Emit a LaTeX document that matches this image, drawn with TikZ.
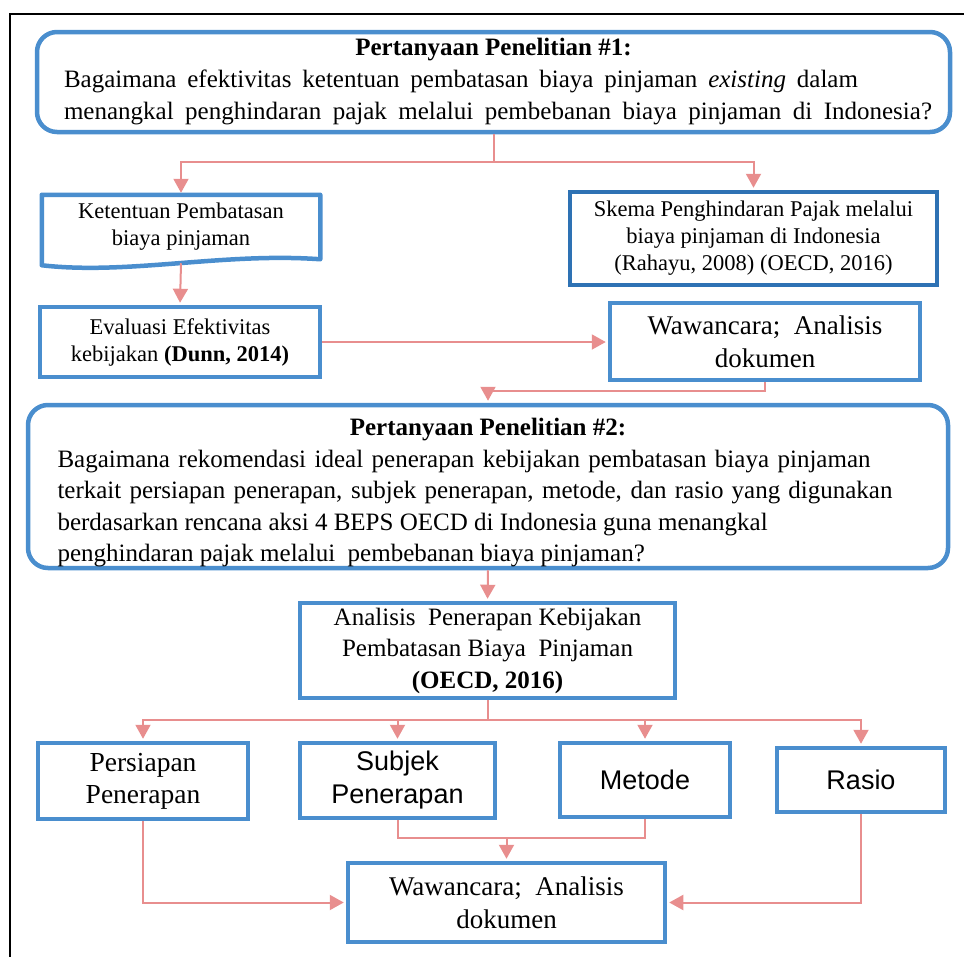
\documentclass[tikz,border=0pt]{standalone}
\usepackage{fontspec}
\setmainfont{Liberation Serif}
\setsansfont{Liberation Sans}
\usetikzlibrary{calc, arrows.meta, positioning}
\definecolor{boxblue}{RGB}{74,142,206}
\definecolor{darkblue}{RGB}{46,114,180}
\definecolor{arrowpink}{RGB}{232,142,142}
\newcommand{\fs}[2]{\fontsize{#1}{#2}\selectfont}
\newcommand{\jline}[3]{\makebox[#1][l]{\makebox[#2][s]{#3}}}

\begin{document}
\begin{tikzpicture}
    [
        x=1pt, y=-1pt, >={Triangle[length=14pt,width=15pt]},
        box/.style={draw=boxblue, line width=4.5pt, fill=white, inner sep=0pt, align=center},
        qbox/.style={box, rounded corners=20pt},
        txt/.style={font=\fs{22.5}{27}},
        bigtxt/.style={font=\fs{27}{33}},
        sanstxt/.style={font=\sffamily\fs{27}{33}}
    ]
    \tikzstyle{line} = [draw=arrowpink, line width=2pt, ->, shorten >=2pt]
    \tikzstyle{plain} = [draw=arrowpink, line width=2pt]

    \useasboundingbox (0,0) rectangle (964,956);
    \draw[line width=2pt] (10,962) -- (10,14) -- (966,14);

    % pertanyaan 1
    \node[qbox, minimum width=913pt, minimum height=100pt, font=\fs{25}{32}] (q1) at (493.5,82)
        {\textbf{Pertanyaan Penelitian \#1:}\\
         \jline{859pt}{794pt}{Bagaimana efektivitas ketentuan pembatasan biaya pinjaman \textit{existing} dalam}\\
         \jline{859pt}{868pt}{menangkal penghindaran pajak melalui pembebanan biaya pinjaman di Indonesia?}};

    \node[box, draw=none, minimum width=274pt, minimum height=60pt, txt] (ketentuan) at (181,227)
        {Ketentuan Pembatasan\\biaya pinjaman};
    \draw[draw=boxblue, line width=4.5pt, line join=round] (ketentuan.north west) -- (ketentuan.north east)
        -- (ketentuan.south east) .. controls +(-98,-7) and +(86,10) .. ([yshift=-6pt]ketentuan.south west) -- cycle;
    \node[box, draw=darkblue, minimum width=367pt, minimum height=93pt, txt] (skema) at (753.5,238.5)
        {Skema Penghindaran Pajak melalui\\biaya pinjaman di Indonesia\\(Rahayu,\ 2008) (OECD, 2016)};
    \node[box, minimum width=280pt, minimum height=70pt, txt] (evaluasi) at (180,342)
        {Evaluasi Efektivitas\\kebijakan \textbf{(Dunn, 2014)}};
    \node[box, minimum width=310pt, minimum height=77pt, bigtxt] (wawancara1) at (765,341.5)
        {Wawancara;\ \ Analisis\\dokumen};

    \coordinate (split1) at (493.5,162);
    \path[line] (q1.south) -- (split1) -| (ketentuan.north);
    \path[line] (split1) -| (skema.north);
    \path[line] ([yshift=-4pt]ketentuan.south) -- (evaluasi.north);
    \path[line] (evaluasi.east) -- (evaluasi.east -| wawancara1.west);

    % pertanyaan 2
    \node[qbox, minimum width=920pt, minimum height=163pt, font=\fs{25}{31.5}] (q2) at (488,486.5)
        {\rule{0pt}{30pt}\textbf{Pertanyaan Penelitian \#2:}\\
         \jline{861pt}{813pt}{Bagaimana rekomendasi ideal penerapan kebijakan pembatasan biaya pinjaman}\\
         \jline{861pt}{835pt}{terkait persiapan penerapan, subjek penerapan, metode, dan rasio yang digunakan}\\
         \makebox[861pt][l]{berdasarkan rencana aksi 4 BEPS OECD di Indonesia guna menangkal}\\
         \makebox[861pt][l]{penghindaran pajak melalui\ \ pembebanan biaya pinjaman?}};

    \coordinate (bend2) at (488,391);
    \path[line] (wawancara1.south) |- (bend2) -- (q2.north);

    \node[box, minimum width=375pt, minimum height=95pt, font=\fs{25}{31.5}] (analisis) at (487.5,650.5)
        {Analisis\ \ Penerapan Kebijakan\\Pembatasan Biaya\ \ Pinjaman\\\textbf{(OECD, 2016)}};
    \path[line] (q2.south) -- (analisis.north);

    \node[box, minimum width=210pt, minimum height=76pt, font=\fs{27.5}{32}] (persiapan) at (143,781)
        {Persiapan\\Penerapan};
    \node[box, minimum width=195pt, minimum height=75pt, sanstxt] (subjek) at (397.5,780.5)
        {Subjek\\Penerapan};
    \node[box, minimum width=170pt, minimum height=74pt, sanstxt] (metode) at (645,780) {Metode};
    \node[box, minimum width=168pt, minimum height=64pt, sanstxt] (rasio) at (861,780) {Rasio};
    \node[box, minimum width=317pt, minimum height=79pt, bigtxt] (wawancara2) at (506.5,902.5)
        {Wawancara;\ \ Analisis\\dokumen};

    \coordinate (split3) at (487.5,720);
    \path[line] (analisis.south) -- (split3) -| (persiapan.north);
    \path[line] (split3) -| (subjek.north);
    \path[line] (split3) -| (metode.north);
    \path[line] (split3) -| (rasio.north);

    \coordinate (join4) at (506.5,838);
    \path[plain] (subjek.south) |- (join4) -| (metode.south);
    \path[line] (join4) -- (wawancara2.north);
    \path[line] (persiapan.south) |- (wawancara2.west);
    \path[line] (rasio.south) |- (wawancara2.east);

\end{tikzpicture}
\end{document}
